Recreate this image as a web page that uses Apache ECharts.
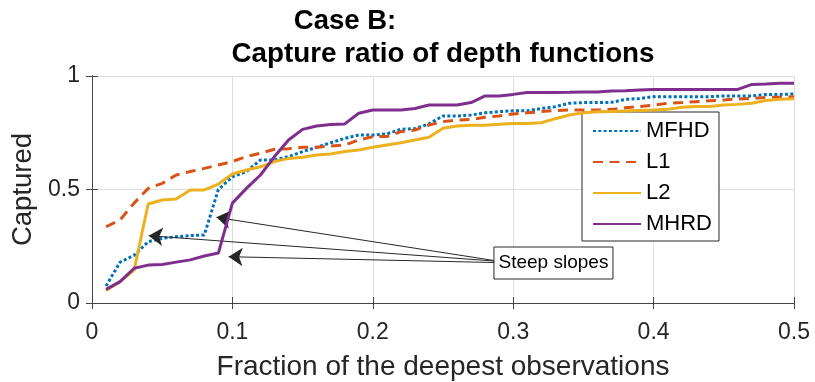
<!DOCTYPE html>
<html>
<head>
<meta charset="utf-8">
<script src="https://cdn.jsdelivr.net/npm/echarts@6/dist/echarts.min.js"></script>
<style>html,body{margin:0;padding:0;background:#fff}#c{width:815px;height:382px}</style>
</head>
<body>
<div id="c"></div>
<script>
const xValues = [0.01,0.02,0.03,0.04,0.05,0.06,0.07,0.08,0.09,0.10,
  0.11,0.12,0.13,0.14,0.15,0.16,0.17,0.18,0.19,0.20,
  0.21,0.22,0.23,0.24,0.25,0.26,0.27,0.28,0.29,0.30,
  0.31,0.32,0.33,0.34,0.35,0.36,0.37,0.38,0.39,0.40,
  0.41,0.42,0.43,0.44,0.45,0.46,0.47,0.48,0.49,0.50];
const mfhd = [0.075,0.18,0.21,0.27,0.285,0.292,0.297,0.30,0.50,0.556,
  0.579,0.63,0.63,0.645,0.667,0.686,0.706,0.725,0.74,0.74,
  0.745,0.765,0.768,0.789,0.824,0.824,0.828,0.838,0.843,0.847,
  0.847,0.857,0.865,0.88,0.883,0.883,0.884,0.897,0.901,0.909,
  0.909,0.909,0.909,0.909,0.912,0.912,0.912,0.919,0.919,0.921];
const l1 = [0.336,0.366,0.44,0.505,0.527,0.564,0.579,0.593,0.608,0.623,
  0.645,0.66,0.677,0.68,0.686,0.686,0.692,0.696,0.718,0.733,
  0.733,0.755,0.762,0.784,0.799,0.806,0.809,0.818,0.824,0.833,
  0.838,0.843,0.848,0.85,0.85,0.85,0.853,0.86,0.865,0.872,
  0.88,0.883,0.887,0.891,0.894,0.899,0.901,0.906,0.906,0.909];
const l2 = [0.055,0.094,0.145,0.436,0.454,0.458,0.498,0.498,0.524,0.568,
  0.586,0.60,0.623,0.637,0.642,0.652,0.656,0.667,0.674,0.686,
  0.696,0.706,0.718,0.73,0.77,0.78,0.783,0.783,0.787,0.791,
  0.791,0.794,0.812,0.828,0.838,0.842,0.844,0.846,0.848,0.85,
  0.853,0.862,0.866,0.866,0.872,0.875,0.88,0.892,0.898,0.90];
const mhrd = [0.06,0.094,0.153,0.167,0.17,0.18,0.19,0.207,0.22,0.44,
  0.505,0.564,0.645,0.718,0.765,0.78,0.786,0.789,0.836,0.85,
  0.85,0.85,0.857,0.872,0.872,0.872,0.883,0.912,0.912,0.919,
  0.927,0.927,0.927,0.928,0.93,0.93,0.934,0.935,0.938,0.941,
  0.941,0.941,0.941,0.941,0.941,0.941,0.963,0.965,0.968,0.968];
const seriesNames = ['MFHD','L1','L2','MHRD'];
const xTicks = [0, 0.1, 0.2, 0.3, 0.4, 0.5];
const yTicks = [0, 0.5, 1];
const arrowTips = [[0.0886,0.3774],[0.0404,0.2964],[0.0973,0.2040]];
const arrowTails = [[0.2863,0.1872],[0.2863,0.1850],[0.2863,0.1784]];
const annotationText = 'Steep slopes';
const titleLine1 = 'Case B:';
const titleLine2 = 'Capture ratio of depth functions';
const xName = 'Fraction of the deepest observations';
const yName = 'Captured';

const FONT = '"Liberation Sans", Arial, Helvetica, sans-serif';
const AX = '#262626';
const pair = ys => xValues.map((x, i) => [x, ys[i]]);

const chart = echarts.init(document.getElementById('c'), null, {renderer: 'canvas'});
const baseAxis = {
  axisLine: {show: true, lineStyle: {color: '#444', width: 1}},
  axisTick: {show: true, inside: true, length: 6, lineStyle: {color: '#444', width: 1}},
  splitLine: {show: false}
};
const option = {
  animation: false,
  backgroundColor: '#fff',
  title: [
    {text: titleLine1, left: 345, top: 7, textAlign: 'center', padding: 0,
     textStyle: {fontSize: 27.5, fontWeight: 'bold', color: '#000', fontFamily: FONT}},
    {text: titleLine2, left: 443, top: 40, textAlign: 'center', padding: 0,
     textStyle: {fontSize: 27.8, fontWeight: 'bold', color: '#000', fontFamily: FONT}}
  ],
  grid: {left: 92, right: 21, top: 76, bottom: 79, containLabel: false, outerBoundsMode: 'none'},
  legend: {
    data: seriesNames, orient: 'vertical', left: 582, top: 112,
    padding: [8, 7, 6, 10], itemGap: 9, itemWidth: 48, itemHeight: 14,
    backgroundColor: '#fff', borderColor: AX, borderWidth: 1, borderRadius: 0,
    itemStyle: {opacity: 0},
    textStyle: {fontSize: 22, lineHeight: 22, color: '#000', fontFamily: FONT},
    selectedMode: false
  },
  xAxis: [
    Object.assign({}, baseAxis, {
      type: 'value', min: 0, max: 0.5, interval: 0.1, position: 'bottom',
      name: xName, nameLocation: 'middle', nameGap: 50,
      nameTextStyle: {fontSize: 28, color: AX, fontFamily: FONT},
      axisLabel: {margin: 18, fontSize: 23, color: AX, fontFamily: FONT,
        formatter: v => xTicks.indexOf(Math.round(v*10)/10) >= 0 ? String(Math.round(v*10)/10) : ''},
      splitLine: {show: true, lineStyle: {color: '#dedede', width: 1}}
    }),
    Object.assign({}, baseAxis, {
      type: 'value', min: 0, max: 0.5, interval: 0.1, position: 'top',
      axisLabel: {show: false}
    })
  ],
  yAxis: [
    Object.assign({}, baseAxis, {
      type: 'value', min: 0, max: 1, interval: 0.5, position: 'left',
      name: yName, nameLocation: 'middle', nameGap: 51,
      nameTextStyle: {fontSize: 27.5, color: AX, fontFamily: FONT},
      axisLabel: {margin: 12, fontSize: 23, color: AX, fontFamily: FONT,
        formatter: v => yTicks.indexOf(v) >= 0 ? String(v) : ''},
      splitLine: {show: true, lineStyle: {color: '#dedede', width: 1}}
    }),
    Object.assign({}, baseAxis, {
      type: 'value', min: 0, max: 1, interval: 0.5, position: 'right',
      axisLabel: {show: false}
    })
  ],
  series: [
    {name: 'MFHD', type: 'line', data: pair(mfhd), symbol: 'none', z: 2,
     lineStyle: {color: '#0072BD', width: 3, type: [3, 2.3]}, itemStyle: {color: '#0072BD'}},
    {name: 'L1', type: 'line', data: pair(l1), symbol: 'none', z: 3,
     lineStyle: {color: '#D95319', width: 3, type: [10, 6.5]}, itemStyle: {color: '#D95319'}},
    {name: 'L2', type: 'line', data: pair(l2), symbol: 'none', z: 4,
     lineStyle: {color: '#EDB120', width: 3, type: 'solid'}, itemStyle: {color: '#EDB120'}},
    {name: 'MHRD', type: 'line', data: pair(mhrd), symbol: 'none', z: 5,
     lineStyle: {color: '#7E2F8E', width: 3, type: 'solid'}, itemStyle: {color: '#7E2F8E'},
     markLine: {
       silent: true, animation: false, symbol: ['arrow', 'none'], symbolSize: 14,
       label: {show: false},
       itemStyle: {color: '#111'},
       lineStyle: {color: '#262626', width: 1, type: 'solid'},
       emphasis: {disabled: true},
       data: arrowTips.map((t, i) => [{coord: t}, {coord: arrowTails[i]}])
     }}
  ]
};
chart.setOption(option);

// Annotation text box anchored at the arrow tails (data coords -> pixels)
const anchor = chart.convertToPixel({xAxisIndex: 0, yAxisIndex: 0}, arrowTails[1]);
const boxW = 119, boxH = 32;
chart.setOption({
  graphic: [
    {type: 'rect', z: 100, shape: {x: anchor[0], y: anchor[1] - boxH/2 + 2, width: boxW, height: boxH},
     style: {fill: '#fff', stroke: '#262626', lineWidth: 1}},
    {type: 'text', z: 101, x: anchor[0] + boxW/2, y: anchor[1] + 2,
     style: {text: annotationText, fontSize: 19, fontFamily: FONT, fill: '#000',
             align: 'center', verticalAlign: 'middle'}}
  ]
});
</script>
</body>
</html>
